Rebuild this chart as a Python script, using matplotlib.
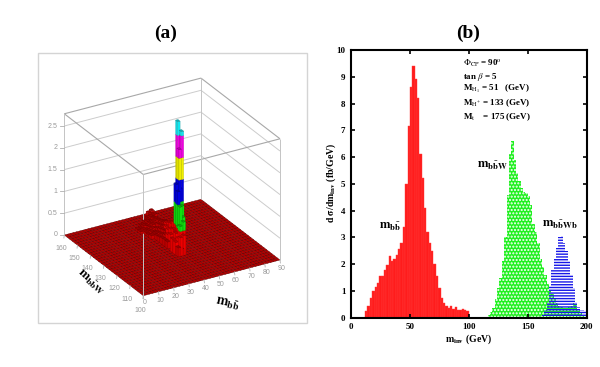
import numpy as np
import matplotlib
matplotlib.use("Agg")
import matplotlib.pyplot as plt
from matplotlib.collections import PolyCollection
from matplotlib.patches import Rectangle

plt.rcParams['font.family'] = ['Liberation Serif', 'DejaVu Serif']
plt.rcParams['mathtext.fontset'] = 'stix'
plt.rcParams['hatch.linewidth'] = 1.0

# ---------- panel (b) data ----------
bin_width = 2
red_start = 12
red_values = [0.25,0.45,0.75,1.0,1.15,1.3,1.55,1.55,1.8,1.95,2.3,2.1,2.2,2.35,2.55,2.8,3.4,5.0,
              7.15,8.6,9.4,8.9,8.2,6.1,5.2,4.1,3.2,2.8,2.5,2.0,1.55,1.1,0.75,0.55,0.42,0.38,
              0.45,0.33,0.4,0.3,0.27,0.33,0.3,0.24]
green_start = 112
green_values = [0.02,0.04,0.1,0.2,0.35,0.7,1.1,1.5,2.1,3.0,4.6,6.1,6.6,5.9,5.4,5.1,4.85,4.7,4.65,
                4.55,4.2,3.5,3.2,2.8,2.2,1.9,1.6,1.25,1.05,0.9,0.7,0.55,0.45,0.4,0.35,0.35,0.4,
                0.45,0.55,0.5,0.3,0.2,0.1,0.05]
blue_start = 160
blue_values = [0.05,0.1,0.3,0.6,1.2,1.8,2.2,2.6,3.0,3.05,2.8,2.5,2.1,1.6,1.1,0.6,0.4,0.3,0.3,0.25]
x_ticks = [0,50,100,150,200]
y_ticks = list(range(11))
info_lines = [r"$\Phi_{\mathrm{CP}}$ = 90$^{\mathrm{o}}$", r"tan $\beta$ = 5",
              r"M$_{\mathrm{H}_1}$ = 51   (GeV)", r"M$_{\mathrm{H}^{+}}$ = 133 (GeV)",
              r"M$_{\mathrm{t}}$    = 175 (GeV)"]
info_y = [9.5,9.0,8.55,8.03,7.5]

# ---------- panel (a) data ----------
mbb_ticks = [0,10,20,30,40,50,60,70,80,90]
mbbw_ticks = [100,110,120,130,140,150,160]
z_ticks = [0,0.5,1,1.5,2,2.5]
z_labels = ['0','0.5','1','1.5','2','2.5']
z_max = 2.78
band_colors = ['#ee0000','#10e010','#0000e0','#f0f000','#f000e0','#10e8f0']
ridge_w = [156,154,152,150,148,146,144,142,140,138,136,134,132,130,128,126,124,122]
ridge_m0 = [52,50,46,42,38,38,40,40,40,42,42,42,42,42,44,42,42,42]
ridge_h = [[.12,.15],[.08,.1,.12],[.06,.1,.14,.1],[.05,.08,.12,.1,.15,.12],
           [.05,.06,.1,.08,.12,.15,.18,.12],[.05,.08,.06,.1,.14,.12,.2,.16],
           [.06,.08,.12,.1,.18,.22,.2],[.05,.1,.08,.14,.2,.24,.22],[.08,.1,.12,.18,.22,.28,.25],
           [.1,.14,.2,.26,.32,.3],[.12,.16,.22,.3,.38,.34],[.14,.2,.3,.42],[.15,.25,.36,.5],
           [.15,.3,.4,.55],[.25,.38,.6],[.3,.42,.55],[.28,.35,.3],[.2,.15]]
spike_mbb = [49.5,51,49.5,47.5,50,47,49.5,46.5,48.5,45,47,43.5,45.5]
spike_mbbw = [131,130,130,130,130,128,128,126,126,124,124,122,122]
spike_h = [2.82,2.6,2.2,1.42,1.3,1.3,0.95,1.0,0.75,0.62,0.7,0.42,0.45]

fig = plt.figure(figsize=(6.0,3.67), dpi=100)
W, H = 600, 367

# ---------- panel (a): projected lego plot on a pixel canvas ----------
ax = fig.add_axes([0,0,1,1])
ax.set_xlim(0,W); ax.set_ylim(H,0); ax.axis('off')
ax.add_patch(Rectangle((37.5,52.5),269.5,270.5,fc='white',ec='#d4d4d4',lw=1))

def proj(m, w, z=0.0):
    u = (np.asarray(m,float)-0)/90
    v = (np.asarray(w,float)-100)/60
    return (143.3+136.7*u-79*v, 295.7-35.7*u-60.7*v-43.6*np.asarray(z,float))

def seg(p, q, **kw):
    a, b = proj(*p), proj(*q)
    ax.plot([a[0],b[0]],[a[1],b[1]],solid_capstyle='butt',**kw)

g = dict(color='#cccccc', lw=0.7)
for zt in z_ticks[1:]:
    seg((0,160,zt),(90,160,zt),**g)
    seg((90,160,zt),(90,100,zt),**g)
box = dict(color='#a8a8a8', lw=0.8)
seg((0,160,z_max),(90,160,z_max),**box); seg((90,160,z_max),(90,100,z_max),**box)
seg((90,100,z_max),(0,100,z_max),**box); seg((0,100,z_max),(0,160,z_max),**box)
for c in [(0,160),(90,160),(90,100),(0,100)]:
    seg((c[0],c[1],0),(c[0],c[1],z_max),color='#c4c4c4',lw=0.7)

polys = []
for m in np.arange(0,90,2):
    for w in np.arange(100,160,2):
        xs, ys = proj([m,m+2,m+2,m],[w,w,w+2,w+2])
        polys.append(np.column_stack([xs,ys]))
ax.add_collection(PolyCollection(polys,facecolors='#b40000',edgecolors='#600000',linewidths=0.3))

def shade(c, f):
    r = matplotlib.colors.to_rgb(c)
    return tuple(min(1,x*f) for x in r)

cells = [(m0+2*i,w,h,1.9) for w,m0,row in zip(ridge_w,ridge_m0,ridge_h) for i,h in enumerate(row)]
cells += [(m,w,h,1.6) for m,w,h in zip(spike_mbb,spike_mbbw,spike_h)]
cells.sort(key=lambda t: -(t[0]/90+(t[1]-100)/60))
for m,w,h,d in cells:
    lo = 0.0; i = 0
    while lo < h:
        hi = min(lo+0.5,h)
        col = band_colors[min(i,5)]
        if i == 0 and h < 0.25:
            col = '#c80000'
        for xx,yy,f in [([m,m,m,m],[w,w+d,w+d,w],0.92),([m,m+d,m+d,m],[w,w,w,w],1.0)]:
            px,py = proj(xx,yy,[lo,lo,hi,hi])
            ax.fill(px,py,fc=shade(col,f),ec=shade(col,0.6),lw=0.15,zorder=5)
        if hi == h:
            px,py = proj([m,m+d,m+d,m],[w,w,w+d,w+d],[hi]*4)
            ax.fill(px,py,fc=shade(col,0.75),ec=shade(col,0.5),lw=0.2,zorder=5)
        lo = hi; i += 1

txt = dict(color='#9a9a9a', fontsize=5, family=['Liberation Sans','DejaVu Sans'])
for zt,lab in zip(z_ticks,z_labels):
    x0,y0 = proj(0,160,zt)
    ax.plot([x0,x0-4],[y0,y0],color='#b0b0b0',lw=0.6)
    ax.text(x0-7,y0,lab,ha='right',va='center',**txt)
for m in mbb_ticks:
    x0,y0 = proj(m,100)
    ax.plot([x0,x0+0.4],[y0,y0+3],color='#b0b0b0',lw=0.6)
    ax.text(x0+1.5,y0+(7 if m == 0 else 8.5),str(m),ha='center',va='center',**txt)
for w in mbbw_ticks:
    x0,y0 = proj(0,w)
    ax.plot([x0,x0-0.4],[y0,y0+3],color='#b0b0b0',lw=0.6)
    ax.text(x0-3,y0+(15 if w == 100 else 13.5),str(w),ha='center',va='center',**txt)
ax.text(90,282,r"$\mathbf{m_{b\bar{b}W}}$",rotation=-42,ha='center',va='center',fontsize=9.5,rotation_mode='anchor')
ax.text(227,304,r"$\mathbf{m_{b\bar{b}}}$",rotation=-12,ha='center',va='center',fontsize=10,rotation_mode='anchor')
ax.text(166,33,"(a)",fontsize=14,fontweight='bold',ha='center',va='center')
ax.text(468,33,"(b)",fontsize=14,fontweight='bold',ha='center',va='center')

# ---------- panel (b) ----------
bx = fig.add_axes([351/W,1-317.7/H,235.7/W,267.7/H])
bx.set_facecolor('none')
red_x = red_start+bin_width*np.arange(len(red_values))
green_x = green_start+bin_width*np.arange(len(green_values))
blue_x = blue_start+bin_width*np.arange(len(blue_values))
bx.bar(red_x,red_values,width=bin_width,align='edge',fc='#ff1c1c',ec='#ff3c3c',lw=0.3)
bx.bar(green_x,green_values,width=bin_width,align='edge',fc='#20f020',ec='#ffffff',lw=0,hatch='.....')
bx.bar(blue_x,blue_values,width=bin_width,align='edge',fc='none',ec='#1818e8',lw=0,hatch='------')
bx.set_xlim(0,200); bx.set_ylim(0,10)
bx.set_xticks(x_ticks); bx.set_yticks(y_ticks)
bx.tick_params(direction='in',top=True,right=True,length=3,width=1.2,labelsize=6.5,pad=4)
for lab in bx.get_xticklabels()+bx.get_yticklabels():
    lab.set_fontweight('bold')
for s in bx.spines.values():
    s.set_linewidth(1.5)
for t,y in zip(info_lines,info_y):
    bx.text(95,y,t,fontsize=6.5,fontweight='bold',ha='left',va='center')
bx.text(24,3.4,r"$\mathbf{m_{b\bar{b}}}$",fontsize=9,ha='left',va='center')
bx.text(107,5.68,r"$\mathbf{m_{b\bar{b}W}}$",fontsize=9,ha='left',va='center')
bx.text(162,3.46,r"$\mathbf{m_{b\bar{b}Wb}}$",fontsize=9,ha='left',va='center')
bx.set_xlabel(r"$\mathbf{m_{inv}}$ (GeV)",fontsize=7,fontweight='bold',va='center')
bx.set_ylabel(r"d $\mathbf{\sigma}$/d$\mathbf{m_{inv}}$ (fb/GeV)",fontsize=7,fontweight='bold',va='center')
bx.xaxis.set_label_coords(0.5,-0.08)
bx.yaxis.set_label_coords(-0.085,0.503)

fig.savefig("out.png",dpi=100)
